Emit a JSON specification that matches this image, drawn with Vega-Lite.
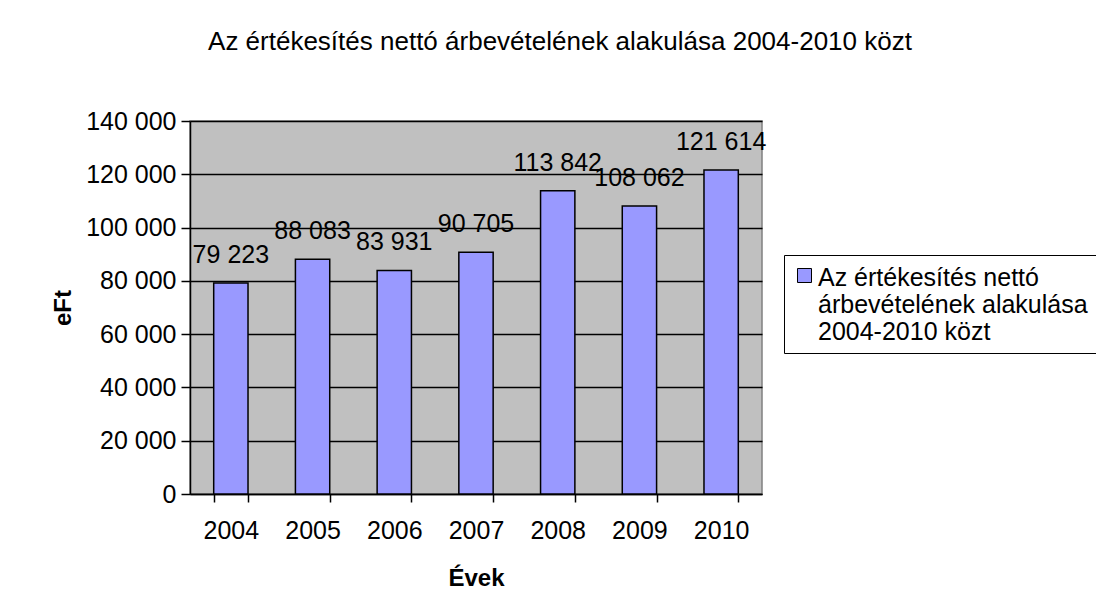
{
  "$schema": "https://vega.github.io/schema/vega-lite/v6.json",
  "autosize": {"type": "none"},
  "padding": {"left": 190, "top": 121, "right": 334, "bottom": 122},
  "width": 572,
  "height": 373,
  "background": "white",
  "config": {
    "font": "Liberation Sans",
    "locale": {"number": {"decimal": ",", "thousands": " ", "grouping": [3], "currency": ["", ""]}},
    "view": {"fill": "#C0C0C0", "stroke": "#808080", "strokeWidth": 1.5},
    "style": {"guide-label": {"dy": -10}}
  },
  "title": {
    "text": "Az értékesítés nettó árbevételének alakulása 2004-2010 közt",
    "fontSize": 26,
    "fontWeight": "normal",
    "color": "black",
    "anchor": "middle",
    "dx": 84,
    "offset": 54
  },
  "data": {
    "values": [
      {"year": "2004", "value": 79223, "series": "Az értékesítés nettó árbevételének alakulása 2004-2010 közt"},
      {"year": "2005", "value": 88083, "series": "Az értékesítés nettó árbevételének alakulása 2004-2010 közt"},
      {"year": "2006", "value": 83931, "series": "Az értékesítés nettó árbevételének alakulása 2004-2010 közt"},
      {"year": "2007", "value": 90705, "series": "Az értékesítés nettó árbevételének alakulása 2004-2010 közt"},
      {"year": "2008", "value": 113842, "series": "Az értékesítés nettó árbevételének alakulása 2004-2010 közt"},
      {"year": "2009", "value": 108062, "series": "Az értékesítés nettó árbevételének alakulása 2004-2010 közt"},
      {"year": "2010", "value": 121614, "series": "Az értékesítés nettó árbevételének alakulása 2004-2010 közt"}
    ]
  },
  "encoding": {
    "x": {
      "field": "year",
      "type": "nominal",
      "scale": {"paddingInner": 0.58, "paddingOuter": 0.29},
      "axis": {
        "labelAngle": 0,
        "tickBand": "extent",
        "domainColor": "black",
        "domainWidth": 1.5,
        "tickColor": "black",
        "tickWidth": 1.5,
        "tickSize": 8,
        "labelFontSize": 25,
        "labelColor": "black",
        "labelBaseline": "top",
        "labelPadding": 26,
        "title": "Évek",
        "titleFontSize": 24,
        "titleFontWeight": "bold",
        "titleColor": "black",
        "titlePadding": 23
      }
    },
    "y": {
      "field": "value",
      "type": "quantitative",
      "scale": {"domain": [0, 140000], "nice": false},
      "axis": {
        "values": [0, 20000, 40000, 60000, 80000, 100000, 120000, 140000],
        "format": ",d",
        "grid": true,
        "gridColor": "black",
        "gridOpacity": 1,
        "gridWidth": 1.5,
        "domainColor": "black",
        "domainWidth": 1.5,
        "tickColor": "black",
        "tickWidth": 1.5,
        "tickSize": 9,
        "labelFontSize": 25,
        "labelColor": "black",
        "labelBaseline": "top",
        "labelOffset": -2,
        "labelPadding": 5,
        "title": "eFt",
        "titleFontSize": 24,
        "titleFontWeight": "bold",
        "titleColor": "black",
        "titlePadding": 10
      }
    }
  },
  "layer": [
    {
      "mark": {"type": "bar", "stroke": "black", "strokeWidth": 1.5},
      "encoding": {
        "color": {
          "field": "series",
          "type": "nominal",
          "scale": {"range": ["#9999FF"]},
          "legend": {
            "title": null,
            "orient": "none",
            "legendX": 594,
            "legendY": 134,
            "strokeColor": "black",
            "fillColor": "white",
            "padding": 8,
            "symbolType": "square",
            "symbolSize": 196,
            "symbolStrokeColor": "black",
            "symbolStrokeWidth": 1,
            "labelFontSize": 25,
            "labelColor": "black",
            "labelLimit": 0,
            "labelOffset": 1,
            "labelBaseline": "top",
            "labelExpr": "['Az értékesítés nettó', 'árbevételének alakulása', '2004-2010 közt']"
          }
        }
      }
    },
    {
      "mark": {"type": "text", "fontSize": 25, "color": "black", "baseline": "alphabetic", "dy": -20},
      "encoding": {
        "text": {"field": "value", "type": "quantitative", "format": ",d"}
      }
    }
  ]
}
